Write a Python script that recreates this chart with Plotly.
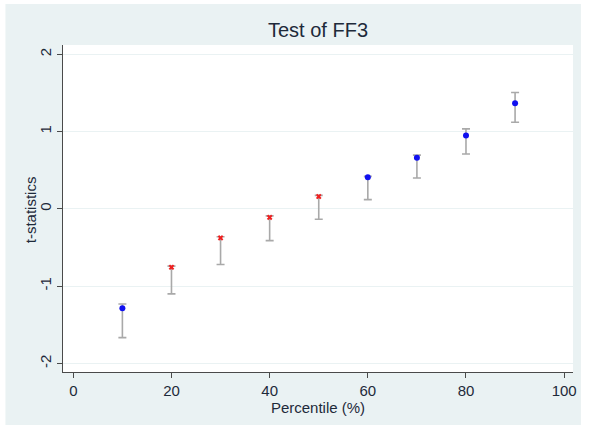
import plotly.graph_objects as go

# Data
pct_blue = [10, 60, 70, 80, 90]
t_blue = [-1.285, 0.41, 0.66, 0.95, 1.365]
pct_red = [20, 30, 40, 50]
t_red = [-0.755, -0.375, -0.11, 0.16]

pct_all = [10, 20, 30, 40, 50, 60, 70, 80, 90]
t_all = [-1.285, -0.755, -0.375, -0.11, 0.16, 0.41, 0.66, 0.95, 1.365]
ci_hi = [-1.23, -0.74, -0.36, -0.09, 0.175, 0.42, 0.695, 1.035, 1.505]
ci_lo = [-1.665, -1.10, -0.72, -0.41, -0.135, 0.12, 0.40, 0.71, 1.12]

x_ticks = [0, 20, 40, 60, 80, 100]
y_ticks = [-2, -1, 0, 1, 2]
y_ticktext = ["-2", "-1", "0", "1", "2"]

FONT = "Liberation Sans, Arial, sans-serif"
TXT = "#1E2A3A"
BG = "#EAF2F3"

fig = go.Figure()

fig.add_trace(go.Scatter(
    x=pct_all, y=t_all, mode="markers",
    marker=dict(size=1, color="rgba(0,0,0,0)"),
    error_y=dict(type="data", symmetric=False,
                 array=[h - t for h, t in zip(ci_hi, t_all)],
                 arrayminus=[t - l for l, t in zip(ci_lo, t_all)],
                 color="#A9A9A9", thickness=1.6, width=4),
    showlegend=False, hoverinfo="skip"))

fig.add_trace(go.Scatter(
    x=pct_blue, y=t_blue, mode="markers",
    marker=dict(symbol="circle", size=6, color="#1010F0"),
    showlegend=False))

fig.add_trace(go.Scatter(
    x=pct_red, y=t_red, mode="markers",
    marker=dict(symbol="x", size=5, color="#F02020"),
    showlegend=False))

W, H = 589, 429
ml, mr, mt, mb = 63, 12, 45, 57
pw, ph = W - ml - mr, H - mt - mb

def px2paper_x(p):
    return (p - ml) / pw

def px2paper_y(p):
    return (H - mb - p) / ph

# white outer border strips
for (ax0, ax1, ay0, ay1) in [(-20, W + 20, -20, 4), (-20, W + 20, 425, H + 20),
                             (-20, 5, -20, H + 20), (585, W + 20, -20, H + 20)]:
    fig.add_shape(type="rect", xref="paper", yref="paper", layer="above",
                  x0=px2paper_x(ax0), x1=px2paper_x(ax1),
                  y0=px2paper_y(ay1), y1=px2paper_y(ay0),
                  fillcolor="white", line=dict(width=0))

fig.add_annotation(text="t-statistics", xref="paper", yref="paper",
                   x=px2paper_x(30), y=px2paper_y(210), textangle=-90,
                   showarrow=False, xanchor="center", yanchor="middle",
                   font=dict(size=15, color=TXT, family=FONT))

fig.update_layout(
    width=W, height=H,
    margin=dict(l=ml, r=mr, t=mt, b=mb),
    paper_bgcolor=BG, plot_bgcolor="white",
    font=dict(family=FONT, color=TXT, size=14),
    title=dict(text="Test of FF3", x=0.5, xref="paper", xanchor="center",
               y=1 - 30 / H, yref="container", yanchor="middle",
               font=dict(size=20, color=TXT, family=FONT)),
    xaxis=dict(range=[-2.1, 101.8], tickvals=x_ticks, showgrid=False,
               zeroline=False, showline=True, linecolor="#4A4A4A", linewidth=1,
               ticks="outside", ticklen=5, tickcolor="#4A4A4A",
               tickfont=dict(size=15, color=TXT),
               title=dict(text="Percentile (%)", font=dict(size=15, color=TXT), standoff=2)),
    yaxis=dict(range=[-2.11, 2.12], tickvals=y_ticks, ticktext=y_ticktext, tickangle=-90,
               showgrid=True, gridcolor=BG, gridwidth=1,
               zeroline=False, showline=True, linecolor="#4A4A4A", linewidth=1,
               ticks="outside", ticklen=5, tickcolor="#4A4A4A",
               tickfont=dict(size=15, color=TXT)),
)

fig.write_html("out.html")
